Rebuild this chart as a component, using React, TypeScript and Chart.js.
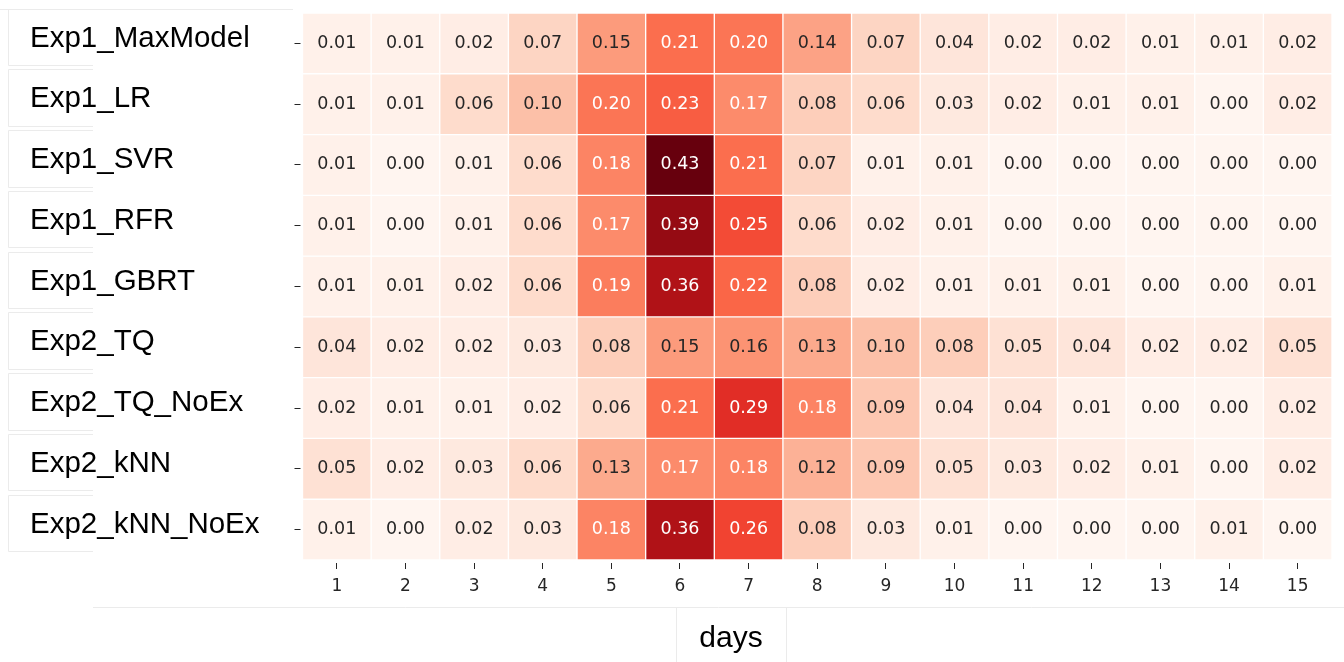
import React, { useEffect, useRef } from "react";
import { Chart, registerables } from "chart.js";

Chart.register(...registerables);

// ---- data ----
const days = ["1", "2", "3", "4", "5", "6", "7", "8", "9", "10", "11", "12", "13", "14", "15"];
const models = [
  "Exp1_MaxModel",
  "Exp1_LR",
  "Exp1_SVR",
  "Exp1_RFR",
  "Exp1_GBRT",
  "Exp2_TQ",
  "Exp2_TQ_NoEx",
  "Exp2_kNN",
  "Exp2_kNN_NoEx",
];
const exp1MaxModel = [0.01, 0.01, 0.02, 0.07, 0.15, 0.21, 0.2, 0.14, 0.07, 0.04, 0.02, 0.02, 0.01, 0.01, 0.02];
const exp1LR = [0.01, 0.01, 0.06, 0.1, 0.2, 0.23, 0.17, 0.08, 0.06, 0.03, 0.02, 0.01, 0.01, 0.0, 0.02];
const exp1SVR = [0.01, 0.0, 0.01, 0.06, 0.18, 0.43, 0.21, 0.07, 0.01, 0.01, 0.0, 0.0, 0.0, 0.0, 0.0];
const exp1RFR = [0.01, 0.0, 0.01, 0.06, 0.17, 0.39, 0.25, 0.06, 0.02, 0.01, 0.0, 0.0, 0.0, 0.0, 0.0];
const exp1GBRT = [0.01, 0.01, 0.02, 0.06, 0.19, 0.36, 0.22, 0.08, 0.02, 0.01, 0.01, 0.01, 0.0, 0.0, 0.01];
const exp2TQ = [0.04, 0.02, 0.02, 0.03, 0.08, 0.15, 0.16, 0.13, 0.1, 0.08, 0.05, 0.04, 0.02, 0.02, 0.05];
const exp2TQNoEx = [0.02, 0.01, 0.01, 0.02, 0.06, 0.21, 0.29, 0.18, 0.09, 0.04, 0.04, 0.01, 0.0, 0.0, 0.02];
const exp2kNN = [0.05, 0.02, 0.03, 0.06, 0.13, 0.17, 0.18, 0.12, 0.09, 0.05, 0.03, 0.02, 0.01, 0.0, 0.02];
const exp2kNNNoEx = [0.01, 0.0, 0.02, 0.03, 0.18, 0.36, 0.26, 0.08, 0.03, 0.01, 0.0, 0.0, 0.0, 0.01, 0.0];
const rows = [exp1MaxModel, exp1LR, exp1SVR, exp1RFR, exp1GBRT, exp2TQ, exp2TQNoEx, exp2kNN, exp2kNNNoEx];
const xTitle = "days";

// ---- colour map (matplotlib "Reds") ----
const VMIN = 0;
const VMAX = 0.43;
const REDS = [
  [255, 245, 240],
  [254, 224, 210],
  [252, 187, 161],
  [252, 146, 114],
  [251, 106, 74],
  [239, 59, 44],
  [203, 24, 29],
  [165, 15, 21],
  [103, 0, 13],
];

function redsRGB(v: number): number[] {
  let t = (v - VMIN) / (VMAX - VMIN);
  t = Math.max(0, Math.min(1, t));
  const p = t * (REDS.length - 1);
  const i = Math.min(REDS.length - 2, Math.floor(p));
  const f = p - i;
  const a = REDS[i];
  const b = REDS[i + 1];
  return [0, 1, 2].map((k) => a[k] + (b[k] - a[k]) * f);
}
function rgbStr(c: number[]) {
  return `rgb(${Math.round(c[0])},${Math.round(c[1])},${Math.round(c[2])})`;
}
function luminance(c: number[]) {
  const lin = c.map((x) => {
    const s = x / 255;
    return s <= 0.03928 ? s / 12.92 : Math.pow((s + 0.055) / 1.055, 2.4);
  });
  return 0.2126 * lin[0] + 0.7152 * lin[1] + 0.0722 * lin[2];
}

const LINE = "#ebebeb";

const decorPlugin = {
  id: "decor",
  beforeDraw(chart: any) {
    const ctx = chart.ctx;
    const ys = chart.scales.y;
    ctx.save();
    ctx.strokeStyle = LINE;
    ctx.lineWidth = 1;
    const line = (x1: number, y1: number, x2: number, y2: number) => {
      ctx.beginPath();
      ctx.moveTo(x1, y1);
      ctx.lineTo(x2, y2);
      ctx.stroke();
    };
    // label boxes
    models.forEach((_, r) => {
      const top = Math.round(ys.getPixelForValue(r) - 4.5) + 0.5;
      const bottom = Math.round(ys.getPixelForValue(r) + 52) + 0.5;
      line(r === 0 ? 0 : 8.5, top, r === 0 ? 293 : 93, top);
      line(8.5, top, 8.5, bottom);
      line(8.5, bottom, 93, bottom);
    });
    // separator line and title box
    line(93, 607.5, 1344, 607.5);
    line(676.5, 607.5, 676.5, 662);
    line(786.5, 607.5, 786.5, 662);
    ctx.restore();
  },
  afterDraw(chart: any) {
    const ctx = chart.ctx;
    ctx.save();
    ctx.fillStyle = "#000";
    ctx.font = '30px "Liberation Sans", Arial, sans-serif';
    ctx.textAlign = "center";
    ctx.textBaseline = "alphabetic";
    ctx.fillText(xTitle, 731, 647);
    ctx.restore();
  },
};

const cellTextPlugin = {
  id: "cellText",
  afterDatasetsDraw(chart: any) {
    const ctx = chart.ctx;
    ctx.save();
    ctx.font = '17.5px "DejaVu Sans", sans-serif';
    ctx.textAlign = "center";
    ctx.textBaseline = "middle";
    rows.forEach((vals, r) => {
      const meta = chart.getDatasetMeta(r);
      meta.data.forEach((bar: any, c: number) => {
        const p = bar.getCenterPoint();
        const lum = luminance(redsRGB(vals[c]));
        ctx.fillStyle = lum > 0.408 ? "#262626" : "#ffffff";
        ctx.fillText(vals[c].toFixed(2), p.x, p.y);
      });
    });
    ctx.restore();
  },
};

export default function App() {
  const ref = useRef<HTMLCanvasElement>(null);
  useEffect(() => {
    if (!ref.current) return;
    const datasets = rows.map((vals, r) => ({
      label: models[r],
      data: vals.map(() => 1),
      backgroundColor: vals.map((v) => rgbStr(redsRGB(v))),
      borderColor: "#ffffff",
      borderWidth: 1,
      borderSkipped: false as any,
      barPercentage: 1,
      categoryPercentage: 1,
      stack: "grid",
    }));
    const chart = new Chart(ref.current, {
      type: "bar",
      data: { labels: days, datasets },
      plugins: [decorPlugin, cellTextPlugin],
      options: {
        animation: false,
        responsive: false,
        maintainAspectRatio: false,
        layout: { padding: { left: 30, right: 12, top: 13, bottom: 0 } },
        plugins: { legend: { display: false }, tooltip: { enabled: false }, title: { display: false } },
        scales: {
          x: {
            stacked: true,
            afterFit: (s: any) => {
              s.height = 102;
              s.paddingLeft = 0;
              s.paddingRight = 0;
            },
            ticks: {
              font: { family: '"DejaVu Sans", sans-serif', size: 17 },
              color: "#262626",
              padding: 7,
              maxRotation: 0,
              autoSkip: false,
            },
            grid: {
              offset: false,
              drawOnChartArea: false,
              tickLength: 9,
              tickColor: "#262626",
              tickWidth: 1,
              tickBorderDash: [0, 3, 6, 100],
            } as any,
            border: { display: false },
          },
          y: {
            stacked: true,
            reverse: true,
            min: 0,
            max: 9,
            afterFit: (s: any) => {
              s.width = 272.5;
              s.paddingTop = 0;
              s.paddingBottom = 0;
            },
            afterBuildTicks: (s: any) => {
              s.ticks = models.map((_, i) => ({ value: i + 0.5 }));
            },
            ticks: {
              callback: (_v: any, i: number) => models[i],
              crossAlign: "far",
              font: { family: '"Liberation Sans", Arial, sans-serif', size: 29.5 },
              color: "#000000",
              labelOffset: -5,
              autoSkip: false,
            },
            grid: {
              drawOnChartArea: false,
              tickLength: 8,
              tickColor: "#262626",
              tickWidth: 1,
              tickBorderDash: [6, 100],
            } as any,
            border: { display: false },
          },
        },
      },
    });
    return () => chart.destroy();
  }, []);
  return (
    <div style={{ position: "fixed", left: 0, top: 0, width: 1344, height: 662, background: "#fff" }}>
      <canvas ref={ref} width={1344} height={662} style={{ display: "block" }} />
    </div>
  );
}
